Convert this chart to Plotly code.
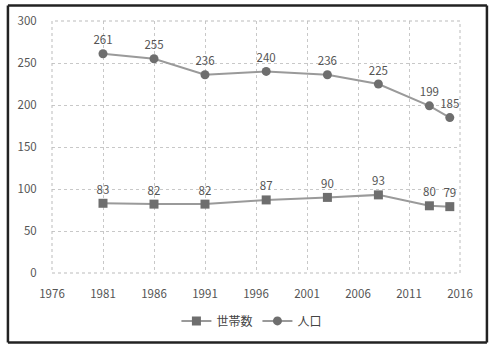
import plotly.graph_objects as go

# Survey years and values
years = [1981, 1986, 1991, 1997, 2003, 2008, 2013, 2015]
households = [83, 82, 82, 87, 90, 93, 80, 79]      # 世帯数
population = [261, 255, 236, 240, 236, 225, 199, 185]  # 人口

x_ticks = [1976, 1981, 1986, 1991, 1996, 2001, 2006, 2011, 2016]
y_ticks = [0, 50, 100, 150, 200, 250, 300]

series_names = ["世帯数", "人口"]

line_color = "#9a9a9a"
marker_color = "#6e6e6e"
text_color = "#555555"
font_family = "Noto Sans CJK JP, DejaVu Sans, sans-serif"

fig = go.Figure()

fig.add_trace(go.Scatter(
    x=years, y=households, name=series_names[0],
    mode="lines+markers+text",
    line=dict(color=line_color, width=2),
    marker=dict(symbol="square", size=9, color=marker_color),
    text=[str(v) for v in households], textposition="top center",
    textfont=dict(size=11.5, color=text_color),
))

fig.add_trace(go.Scatter(
    x=years, y=population, name=series_names[1],
    mode="lines+markers+text",
    line=dict(color=line_color, width=2),
    marker=dict(symbol="circle", size=9, color=marker_color),
    text=[str(v) for v in population], textposition="top center",
    textfont=dict(size=11.5, color=text_color),
))

# outer frame edges (paper coordinates)
fx0, fx1, fy0, fy1 = -0.108, 1.066, -0.276, 1.062
frame = dict(color="#222222", width=2.5)

fig.update_layout(
    width=490, height=345,
    margin=dict(l=52, r=30, t=21, b=72, autoexpand=False),
    paper_bgcolor="white", plot_bgcolor="white",
    font=dict(family=font_family, size=11, color=text_color),
    showlegend=True,
    legend=dict(orientation="h", x=0.49, xanchor="center", y=-0.19, yanchor="middle",
                font=dict(size=12, color="#444444"), itemwidth=30),
    xaxis=dict(range=[1976, 2016], tickvals=x_ticks, ticktext=[str(t) for t in x_ticks],
               showgrid=True, gridcolor="#c8c8c8", griddash="dot", gridwidth=1,
               zeroline=False, showline=False, ticks="outside", ticklen=10,
               tickcolor="rgba(0,0,0,0)", tickfont=dict(size=11.5)),
    yaxis=dict(range=[0, 300], tickvals=y_ticks,
               showgrid=True, gridcolor="#c8c8c8", griddash="dot", gridwidth=1,
               zeroline=False, showline=False, ticks="outside", ticklen=12,
               tickcolor="rgba(0,0,0,0)", tickfont=dict(size=11.5)),
    shapes=[
        # dotted border around plotting area
        dict(type="rect", xref="paper", yref="paper", x0=0, y0=0, x1=1, y1=1,
             line=dict(color="#bbbbbb", width=1, dash="dot")),
        # outer frame of the chart
        dict(type="line", xref="paper", yref="paper", x0=fx0, x1=fx1, y0=fy1, y1=fy1, line=frame),
        dict(type="line", xref="paper", yref="paper", x0=fx0, x1=fx1, y0=fy0, y1=fy0, line=frame),
        dict(type="line", xref="paper", yref="paper", x0=fx0, x1=fx0, y0=fy0, y1=fy1, line=frame),
        dict(type="line", xref="paper", yref="paper", x0=fx1, x1=fx1, y0=fy0, y1=fy1, line=frame),
    ],
)

fig.write_html("out.html", config={"displayModeBar": False})
